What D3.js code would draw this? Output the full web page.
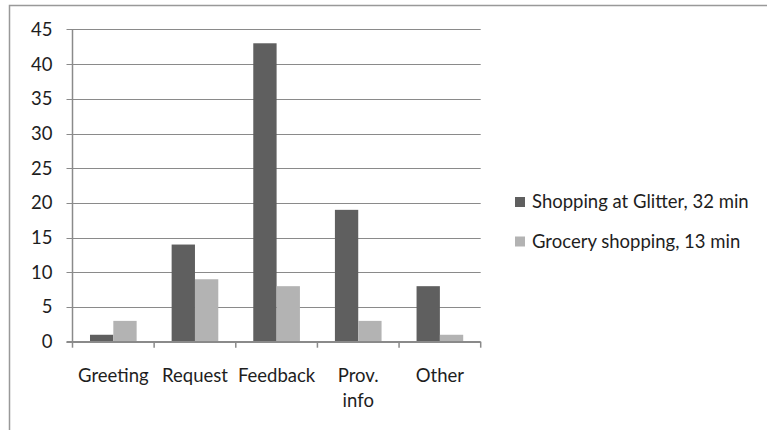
<!DOCTYPE html>
<html>
<head>
<meta charset="utf-8">
<script src="https://cdn.jsdelivr.net/npm/d3@7"></script>
<style>
  html, body { margin: 0; padding: 0; background: #fff; }
  svg { display: block; }
  text { font-family: Lato, "Open Sans", sans-serif; fill: #1e1e1e; }
</style>
</head>
<body>
<svg id="chart" width="767" height="430"></svg>
<script>
const categories = ["Greeting", "Request", "Feedback", "Prov.\ninfo", "Other"];
const seriesNames = ["Shopping at Glitter, 32 min", "Grocery shopping, 13 min"];
const glitter = [1, 14, 43, 19, 8];
const grocery = [3, 9, 8, 3, 1];
const yTicks = [0, 5, 10, 15, 20, 25, 30, 35, 40, 45];
const colors = ["#5f5f5f", "#b3b3b3"];

const svg = d3.select("#chart");
const plot = { left: 72.5, right: 480.7, top: 29.4, bottom: 341.7 };
const fontSize = 18.5;

// outer frame (only top and left edges fall inside the view)
svg.append("rect")
  .attr("x", 9.5).attr("y", 5.5)
  .attr("width", 800).attr("height", 500)
  .attr("fill", "none").attr("stroke", "#999").attr("stroke-width", 1.5);

const x = d3.scaleBand().domain(categories).range([plot.left, plot.right]);
const y = d3.scaleLinear().domain([0, 45]).range([plot.bottom, plot.top]);
const barW = x.bandwidth() / 3.5;

// horizontal gridlines with left ticks
svg.append("g").selectAll("line").data(yTicks).join("line")
  .attr("x1", plot.left - 6).attr("x2", plot.right)
  .attr("y1", d => Math.round(y(d)) + 0.5).attr("y2", d => Math.round(y(d)) + 0.5)
  .attr("stroke", "#8a8a8a").attr("stroke-width", 1);

// y tick labels
svg.append("g").selectAll("text").data(yTicks).join("text")
  .attr("x", 52.5).attr("y", d => y(d))
  .attr("dy", "0.35em").attr("text-anchor", "end")
  .attr("font-size", fontSize).text(d => d);

// bars
const series = [glitter, grocery];
series.forEach((vals, si) => {
  svg.append("g").selectAll("rect").data(vals).join("rect")
    .attr("x", (d, i) => x(categories[i]) + barW * 0.75 + si * barW)
    .attr("width", barW)
    .attr("y", d => y(d))
    .attr("height", d => y(0) - y(d))
    .attr("fill", colors[si]);
});

// axis lines
svg.append("line")
  .attr("x1", plot.left).attr("x2", plot.left).attr("y1", plot.top).attr("y2", plot.bottom)
  .attr("stroke", "#8a8a8a").attr("stroke-width", 1.5);
svg.append("line")
  .attr("x1", plot.left - 6).attr("x2", plot.right).attr("y1", plot.bottom).attr("y2", plot.bottom)
  .attr("stroke", "#8a8a8a").attr("stroke-width", 1.5);

// category boundary ticks
const bounds = categories.map(c => x(c)).concat([plot.right]);
svg.append("g").selectAll("line").data(bounds).join("line")
  .attr("x1", d => d).attr("x2", d => d)
  .attr("y1", plot.bottom).attr("y2", plot.bottom + 6)
  .attr("stroke", "#8a8a8a").attr("stroke-width", 1.5);

// category labels
const catG = svg.append("g").selectAll("text").data(categories).join("text")
  .attr("text-anchor", "middle").attr("font-size", fontSize)
  .attr("transform", d => `translate(${x(d) + x.bandwidth() / 2},${381.5})`);
catG.selectAll("tspan").data(d => d.split("\n")).join("tspan")
  .attr("x", 0).attr("dy", (d, i) => i === 0 ? 0 : 25).text(d => d);

// legend
const legend = svg.append("g").selectAll("g").data(seriesNames).join("g")
  .attr("transform", (d, i) => `translate(515,${202 + i * 39.5})`);
legend.append("rect").attr("x", 0).attr("y", -5).attr("width", 10).attr("height", 10)
  .attr("fill", (d, i) => colors[i]);
legend.append("text").attr("x", 17).attr("dy", "0.35em")
  .attr("font-size", fontSize).text(d => d);
</script>
</body>
</html>
